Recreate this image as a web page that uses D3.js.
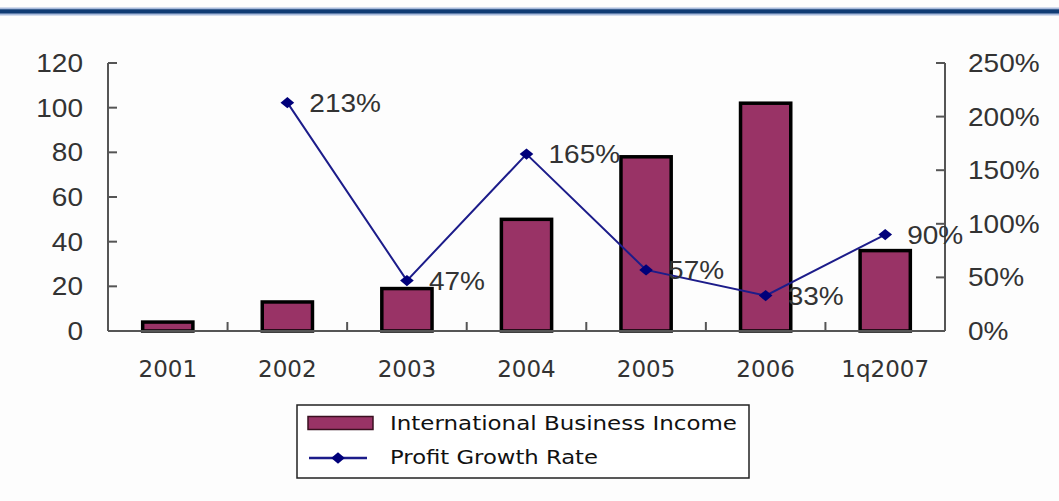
<!DOCTYPE html>
<html>
<head>
<meta charset="utf-8">
<script src="https://cdn.jsdelivr.net/npm/d3@7"></script>
<style>
  body { margin: 0; background: #fdfdfd; }
  svg { display: block; }
</style>
</head>
<body>
<svg id="chart"></svg>
<script>
// chart values
const categories = ['2001', '2002', '2003', '2004', '2005', '2006', '1q2007']
const income = [4, 13, 19, 50, 78, 102, 36]
const growth = [null, 213, 47, 165, 57, 33, 90]
const leftTicks = [0, 20, 40, 60, 80, 100, 120]
const rightTicks = [0, 50, 100, 150, 200, 250]
const seriesNames = ['International Business Income', 'Profit Growth Rate']

const width = 1059, height = 501
const plot = { left: 108, right: 945, top: 63, bottom: 331 }
const barColor = '#993366'
const lineColor = '#1c1c8a'
const axisColor = '#555'

const svg = d3.select('#chart').attr('width', width).attr('height', height)

// title band at the top
svg.append('rect').attr('x', 0).attr('y', 7.5).attr('width', width).attr('height', 8).attr('fill', '#a9bbdc')
svg.append('rect').attr('x', 0).attr('y', 9.3).attr('width', width).attr('height', 4.2).attr('fill', '#103c74')

const x = d3.scaleBand().domain(categories).range([plot.left, plot.right]).paddingInner(0).paddingOuter(0)
const yL = d3.scaleLinear().domain([0, 120]).range([plot.bottom, plot.top])
const yR = d3.scaleLinear().domain([0, 250]).range([plot.bottom, plot.top])

// stretch text horizontally a bit, like the original
function stretch(sel, k) {
  sel.each(function () {
    const w = this.getComputedTextLength()
    d3.select(this).attr('textLength', w * k).attr('lengthAdjust', 'spacingAndGlyphs')
  })
}

// bars
const barW = x.bandwidth() * 0.42
svg.append('g').selectAll('rect').data(income).join('rect')
  .attr('x', (d, i) => x(categories[i]) + (x.bandwidth() - barW) / 2)
  .attr('y', d => yL(d))
  .attr('width', barW)
  .attr('height', d => yL(0) - yL(d))
  .attr('fill', barColor)
  .attr('stroke', '#000')
  .attr('stroke-width', 3.5)

// axes
const axG = svg.append('g').attr('stroke', axisColor).attr('stroke-width', 2).attr('fill', 'none')
axG.append('line').attr('x1', plot.left).attr('x2', plot.left).attr('y1', plot.top).attr('y2', plot.bottom)
axG.append('line').attr('x1', plot.right).attr('x2', plot.right).attr('y1', plot.top).attr('y2', plot.bottom)
axG.append('line').attr('x1', plot.left).attr('x2', plot.right).attr('y1', plot.bottom).attr('y2', plot.bottom)
axG.selectAll('.tl').data(leftTicks).join('line').attr('class', 'tl')
  .attr('x1', plot.left).attr('x2', plot.left + 9)
  .attr('y1', d => yL(d)).attr('y2', d => yL(d))
axG.selectAll('.tr').data(rightTicks).join('line').attr('class', 'tr')
  .attr('x1', plot.right).attr('x2', plot.right - 9)
  .attr('y1', d => yR(d)).attr('y2', d => yR(d))
axG.selectAll('.tx').data(categories.slice(1)).join('line').attr('class', 'tx')
  .attr('x1', d => x(d)).attr('x2', d => x(d))
  .attr('y1', plot.bottom).attr('y2', plot.bottom - 9)

// tick labels
svg.append('g').selectAll('text').data(leftTicks).join('text')
  .attr('x', 83).attr('y', d => yL(d)).attr('dy', '0.36em')
  .attr('text-anchor', 'end')
  .attr('font-family', 'Liberation Sans, Arial, sans-serif').attr('font-size', 25)
  .attr('fill', '#333')
  .text(d => d)
  .call(stretch, 1.12)

svg.append('g').selectAll('text').data(rightTicks).join('text')
  .attr('x', 968).attr('y', d => yR(d)).attr('dy', '0.36em')
  .attr('font-family', 'Liberation Sans, Arial, sans-serif').attr('font-size', 25)
  .attr('fill', '#333')
  .text(d => d + '%')
  .call(stretch, 1.12)

svg.append('g').selectAll('text').data(categories).join('text')
  .attr('x', d => x(d) + x.bandwidth() / 2).attr('y', 377)
  .attr('text-anchor', 'middle')
  .attr('font-family', 'DejaVu Sans, Verdana, sans-serif').attr('font-size', 23)
  .attr('fill', '#333')
  .text(d => d)

// growth line
const pts = growth.map((v, i) => ({ v, c: categories[i] })).filter(p => p.v !== null)
const line = d3.line().x(p => x(p.c) + x.bandwidth() / 2).y(p => yR(p.v))
svg.append('path').datum(pts).attr('d', line)
  .attr('fill', 'none').attr('stroke', lineColor).attr('stroke-width', 2)

const diamond = d3.symbol().type(d3.symbolDiamond2).size(90)
svg.append('g').selectAll('path').data(pts).join('path')
  .attr('d', diamond)
  .attr('transform', p => `translate(${x(p.c) + x.bandwidth() / 2},${yR(p.v)}) scale(1.15,0.95)`)
  .attr('fill', '#00007a')

svg.append('g').selectAll('text').data(pts).join('text')
  .attr('x', p => x(p.c) + x.bandwidth() / 2 + 22).attr('y', p => yR(p.v)).attr('dy', '0.36em')
  .attr('font-family', 'Liberation Sans, Arial, sans-serif').attr('font-size', 25)
  .attr('fill', '#333')
  .text(p => p.v + '%')
  .call(stretch, 1.12)

// legend
const lg = svg.append('g')
lg.append('rect').attr('x', 297).attr('y', 405).attr('width', 452).attr('height', 73)
  .attr('fill', '#fff').attr('stroke', '#222').attr('stroke-width', 1.5)
lg.append('rect').attr('x', 308).attr('y', 416.5).attr('width', 65).attr('height', 13)
  .attr('fill', barColor).attr('stroke', '#3a1020').attr('stroke-width', 1.5)
lg.append('line').attr('x1', 309).attr('x2', 367).attr('y1', 458).attr('y2', 458)
  .attr('stroke', lineColor).attr('stroke-width', 2.5)
lg.append('path').attr('d', diamond).attr('transform', 'translate(338,458) scale(1.15,0.95)').attr('fill', '#00007a')
lg.selectAll('text').data(seriesNames).join('text')
  .attr('x', 390).attr('y', (d, i) => 430 + i * 34)
  .attr('font-family', 'DejaVu Sans, Verdana, sans-serif').attr('font-size', 20)
  .attr('fill', '#111')
  .text(d => d)
  .attr('textLength', (d, i) => [347, 208][i]).attr('lengthAdjust', 'spacingAndGlyphs')
</script>
</body>
</html>
